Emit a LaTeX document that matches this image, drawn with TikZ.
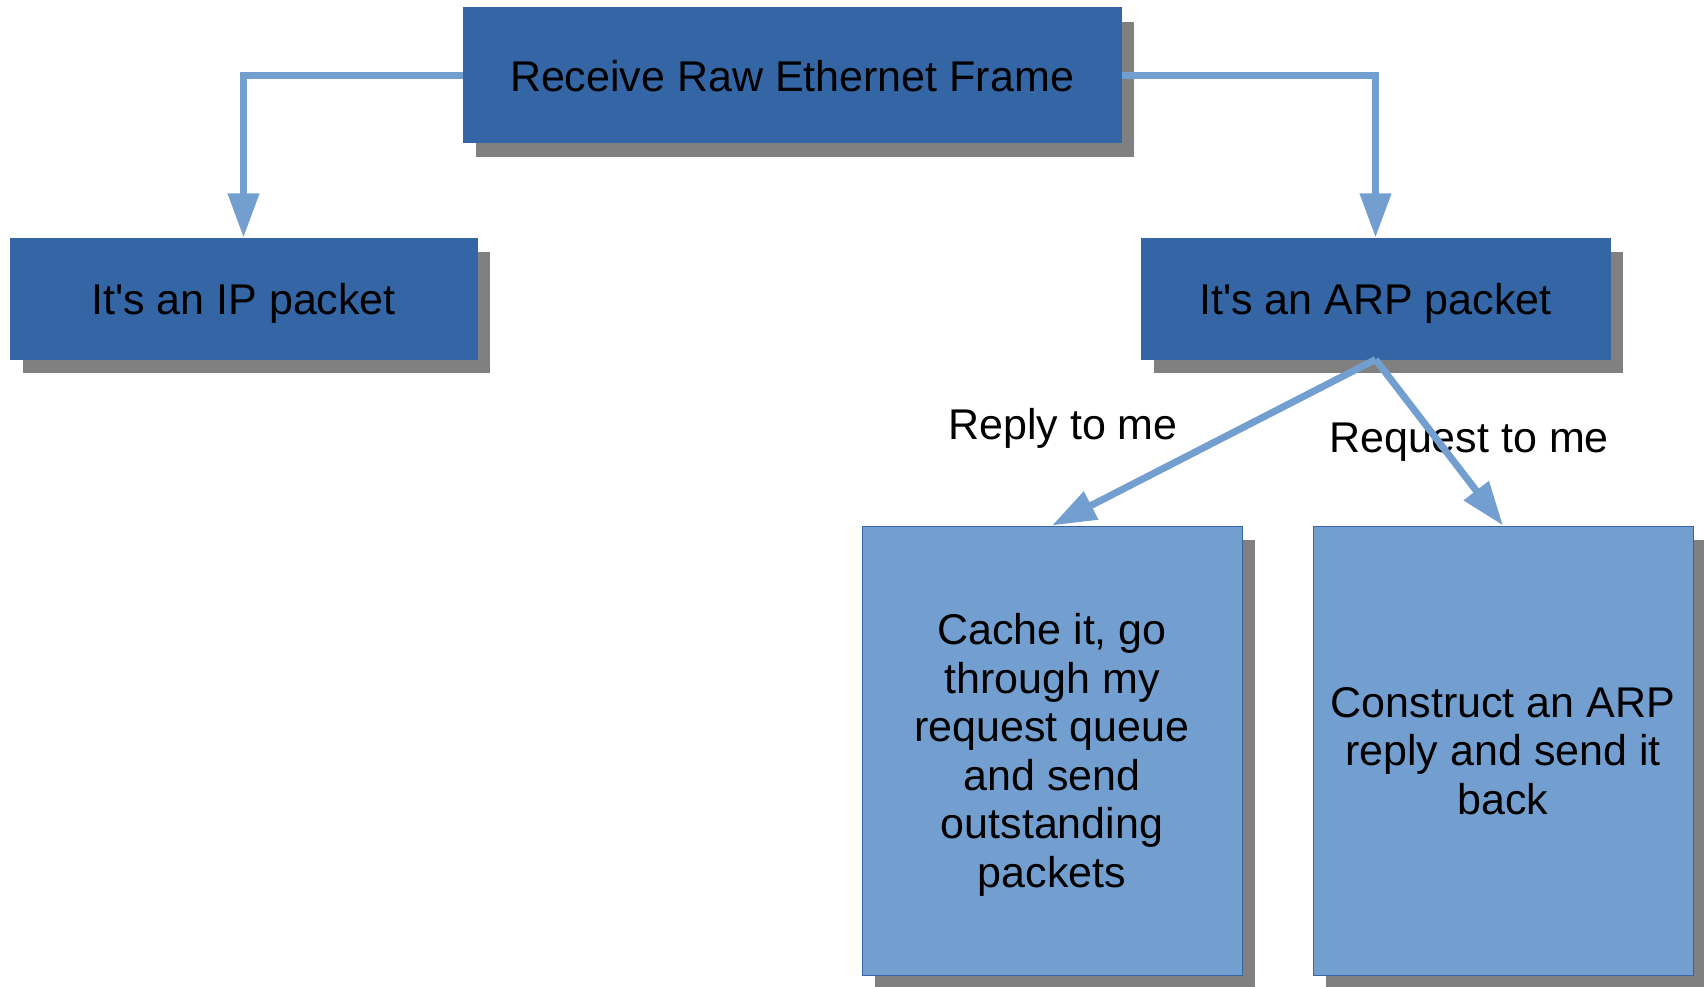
\documentclass[tikz,border=0pt]{standalone}
\usepackage{fontspec}
\setmainfont{Liberation Sans}
\usepackage{tikz}
\usetikzlibrary{positioning,arrows.meta,shadows}
\definecolor{deepblue} {HTML}{3465A4}
\definecolor{skyblue}  {HTML}{729FCF}
\definecolor{shadowgr} {HTML}{808080}
\tikzset{
  >={Triangle[length=44pt,width=30pt]},
  every node/.style={font=\fontsize{43}{48.5}\selectfont},
  % --- nodes
  box/.style   = {rectangle, align=center, inner sep=0pt, line width=1pt, text depth=0pt,
                  drop shadow={shadow xshift=13pt, shadow yshift=-14pt,
                               fill=shadowgr, opacity=1}},
  dark/.style  = {box, fill=deepblue, draw=deepblue},
  pale/.style  = {box, fill=skyblue, draw=deepblue},
  lbl/.style   = {inner sep=0pt},
  % --- edges
  e/.style     = {->, line width=7pt, draw=skyblue},
}
\begin{document}
\begin{tikzpicture}[x=1pt,y=-1pt]
  \useasboundingbox (0,0) rectangle (1704,987);
  \node[dark, minimum width=658pt, minimum height=135pt] (frame) at (792,75.5) {Receive Raw Ethernet Frame};
  \node[dark, minimum width=467pt, minimum height=121pt] (ip)  at (243.5,298.5) {It\textquotesingle s an IP packet};
  \node[dark, minimum width=469pt, minimum height=121pt] (arp) at (1375.5,298.5) {It\textquotesingle s an ARP packet};
  \node[pale, minimum width=380pt, minimum height=449pt] (cache) at (1052,750.5)
    {Cache it, go\\through my\\request queue\\and send\\outstanding\\packets};
  \node[pale, minimum width=380pt, minimum height=449pt] (reply) at (1503,750.5)
    {Construct an ARP\\reply and send it\\back};
  \node[lbl] (rlbl) at (1063,428) {Reply to me};
  \node[lbl] (qlbl) at (1469,442) {Request to me};
  \draw[e] (frame.west) -| (ip.north);
  \draw[e] (frame.east) -| (arp.north);
  \draw[e] (arp.south) -- (cache.north);
  \draw[e] (arp.south) -- (reply.north);
\end{tikzpicture}
\end{document}
